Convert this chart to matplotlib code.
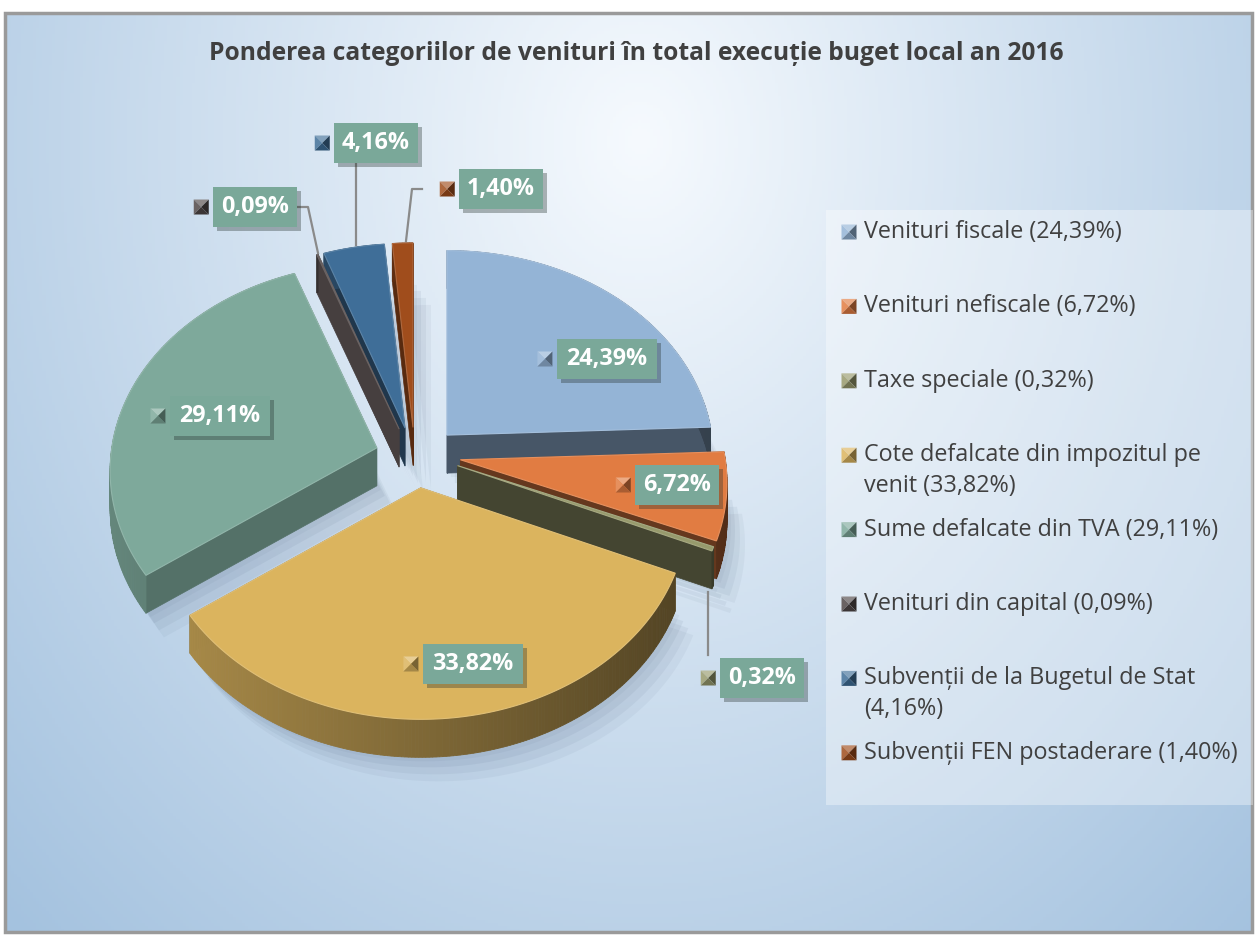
import numpy as np
import matplotlib.pyplot as plt
from matplotlib.patches import Polygon, Rectangle
import matplotlib.patheffects as pe
from matplotlib.colors import to_rgb

plt.rcParams['font.family'] = ['Open Sans', 'DejaVu Sans']

# data
title = "Ponderea categoriilor de venituri în total execuție buget local an 2016"
categories = ["Venituri fiscale", "Venituri nefiscale", "Taxe speciale",
              "Cote defalcate din impozitul pe venit", "Sume defalcate din TVA",
              "Venituri din capital", "Subvenții de la Bugetul de Stat",
              "Subvenții FEN postaderare"]
values = [24.39, 6.72, 0.32, 33.82, 29.11, 0.09, 4.16, 1.40]
legend_labels = ["Venituri fiscale (24,39%)",
                 "Venituri nefiscale (6,72%)",
                 "Taxe speciale (0,32%)",
                 "Cote defalcate din impozitul pe\nvenit (33,82%)",
                 "Sume defalcate din TVA (29,11%)",
                 "Venituri din capital (0,09%)",
                 "Subvenții de la Bugetul de Stat\n(4,16%)",
                 "Subvenții FEN postaderare (1,40%)"]
colors = ["#94b4d6", "#e17c42", "#979a6c", "#dbb45e",
          "#7ea99b", "#504848", "#3f6e98", "#a04d1c"]

# layout / style
W, H = 1255, 935
C0 = np.array([415.0, 455.0])
rx, ry, persp, depth = 265.0, 208.0, 0.113, 38.0
explode = [46, 46, 46, 55, 40, 46, 46, 46]
radial_k = [0.52, 0.55, 0.55, 0.5, 0.33, 0.12, 0.5, 0.45]
label_pos = [(607, 359), (677, 485), (762, 678), (473, 664),
             (220, 416), (255, 207), (376, 143), (501, 189)]
leaders = {5: [(298, 207), (308, 207), (318, 253)],
           6: [(356, 163), (356, 245)],
           7: [(422, 189), (412, 189), (406, 241)],
           2: [(708, 592), (708, 655)]}
box_color = "#7aa899"


def shade(c, k):
    r, g, b = to_rgb(c)
    return (r * (1 - k), g * (1 - k), b * (1 - k))


def tint(c, k):
    r, g, b = to_rgb(c)
    return (r + (1 - r) * k, g + (1 - g) * k, b + (1 - b) * k)


def bevel_square(ax, x, y, c, s=15):
    h = s / 2
    a, b, cc, d = (x - h, y - h), (x + h, y - h), (x + h, y + h), (x - h, y + h)
    m = (x, y)
    ax.add_patch(Polygon([a, b, m], fc=tint(c, 0.35), ec='none', zorder=20))
    ax.add_patch(Polygon([d, a, m], fc=tint(c, 0.15), ec='none', zorder=20))
    ax.add_patch(Polygon([b, cc, m], fc=shade(c, 0.45), ec='none', zorder=20))
    ax.add_patch(Polygon([cc, d, m], fc=shade(c, 0.25), ec='none', zorder=20))


fig = plt.figure(figsize=(W / 100, H / 100), dpi=100)
ax = fig.add_axes([0, 0, 1, 1])
ax.set_xlim(0, W)
ax.set_ylim(H, 0)
ax.axis('off')

# background gradient
x0, x1, y0, y1 = 5, 1252, 13, 932
gx, gy = np.meshgrid(np.linspace(x0, x1, 400), np.linspace(y0, y1, 300))
t = np.clip(np.sqrt(((gx - 640) / 900) ** 2 + ((gy - 140) / 1100) ** 2), 0, 1)
c_in, c_out = np.array(to_rgb("#f6fafe")), np.array(to_rgb("#a4c2df"))
img = c_in + (c_out - c_in) * t[..., None]
ax.imshow(img, extent=(x0, x1, y1, y0), aspect='auto', zorder=0)
ax.add_patch(Rectangle((x0, y0), x1 - x0, y1 - y0, fill=False,
                       ec="#9a9a9a", lw=2.5, zorder=1))

# pie geometry
p_vals = np.array(values)
starts = 90 - 360 * np.concatenate([[0], np.cumsum(p_vals)[:-1]]) / p_vals.sum()
ends = starts - 360 * p_vals / p_vals.sum()


def rim(apex, th):
    s = 1 - persp * np.sin(th)
    return apex + np.array([rx * np.cos(th) * s, -ry * np.sin(th) * s])


slices = []
for i, v in enumerate(values):
    m = np.radians((starts[i] + ends[i]) / 2)
    apex = C0 + explode[i] * np.array([np.cos(m), -0.6 * np.sin(m)])
    n = max(3, int(abs(starts[i] - ends[i]) * 1.5))
    th = np.radians(np.linspace(starts[i], ends[i], n))
    arc = np.array([rim(apex, a) for a in th])
    order = (apex + 0.5 * (rim(apex, m) - apex))[1]
    slices.append((order, i, apex, th, arc))

dv = np.array([0, depth])
# soft shadow on the floor
for off, al in [((18, 24), 0.06), ((13, 17), 0.07), ((8, 10), 0.08), ((4, 4), 0.06)]:
    for _, i, apex, th, arc in slices:
        poly = np.vstack([apex, arc]) + dv + np.array(off)
        ax.add_patch(Polygon(poly, fc="#4a5d78", ec='none', alpha=al, zorder=2))

for _, i, apex, th, arc in sorted(slices, key=lambda s: s[0]):
    c = colors[i]
    for edge in (arc[0], arc[-1]):
        q = [apex, edge, edge + dv, apex + dv]
        rc = shade(c, radial_k[i])
        ax.add_patch(Polygon(q, fc=rc, ec=rc, lw=0.5, zorder=3))
    for j in range(len(arc) - 1):
        mid = (th[j] + th[j + 1]) / 2
        k = 0.42 + 0.22 * np.cos(mid)
        q = [arc[j], arc[j + 1], arc[j + 1] + dv, arc[j] + dv]
        ax.add_patch(Polygon(q, fc=shade(c, k), ec=shade(c, k), lw=0.6, zorder=3))
    ax.add_patch(Polygon(np.vstack([apex, arc]), fc=c, ec=tint(c, 0.15),
                         lw=0.8, zorder=3))

# leader lines
for i, pts in leaders.items():
    pts = np.array(pts)
    ax.plot(pts[:, 0], pts[:, 1], color="#8a8a8a", lw=1.6, zorder=4)

# data labels
for i, v in enumerate(values):
    txt = f"{v:.2f}%".replace('.', ',')
    cx, cy = label_pos[i]
    bw, bh = 16.7 * len(txt), 40
    ax.add_patch(Rectangle((cx - bw / 2, cy - bh / 2), bw, bh, fc=box_color, ec='none',
                           zorder=10, path_effects=[pe.SimplePatchShadow(offset=(3, -3), alpha=0.35),
                                                    pe.Normal()]))
    ax.text(cx, cy, txt, color='white', fontsize=16.8, fontweight='bold',
            ha='center', va='center', zorder=11)
    bevel_square(ax, cx - bw / 2 - 12, cy, colors[i])

# title
ax.text(636, 53, title, ha='center', va='center', fontsize=17.7, fontweight='bold',
        color="#404040", zorder=12)

# legend
ax.add_patch(Rectangle((826, 210), 427, 595, fc='white', ec='none', alpha=0.35, zorder=5))
for i, lab in enumerate(legend_labels):
    y = 232 + 74.4 * i
    bevel_square(ax, 849, y, colors[i])
    for li, line in enumerate(lab.split("\n")):
        ax.text(864, y + 31 * li, line, ha='left', va='center', fontsize=16.8,
                color="#404040", zorder=12)

fig.savefig("out.png", dpi=100)
